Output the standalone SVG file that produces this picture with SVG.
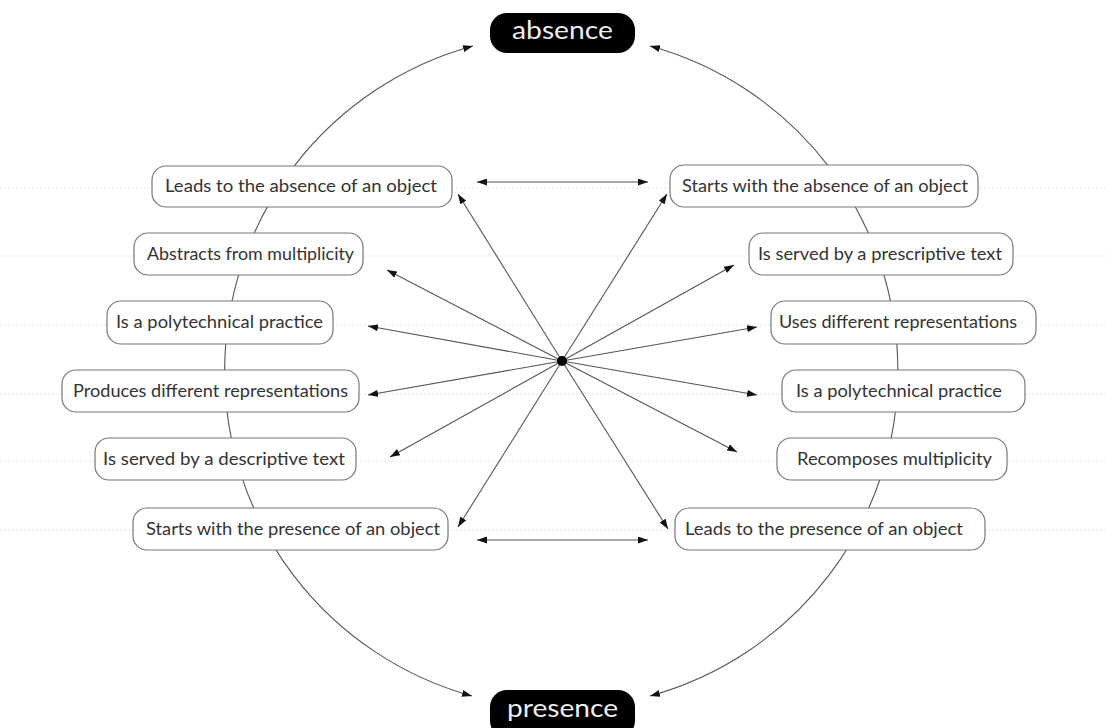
<svg xmlns="http://www.w3.org/2000/svg" width="1105" height="728" viewBox="0 0 1105 728">
<style>
.grid{stroke:#e4e4e4;stroke-width:1;stroke-dasharray:2 2;fill:none}
.box{fill:#fff;stroke:#777;stroke-width:1.2}
.lbl{font-family:Lato,"Open Sans","Liberation Sans",sans-serif;font-size:18px;fill:#333}
.title{fill:#000}
.ttext{font-family:Lato,"Open Sans","Liberation Sans",sans-serif;font-size:25px;fill:#eee}
.ln{stroke:#555;stroke-width:1.1;fill:none}
</style>
<defs>
<marker id="ah" viewBox="0 0 10 7" refX="10" refY="3.5" markerWidth="10" markerHeight="7" markerUnits="userSpaceOnUse" orient="auto-start-reverse">
<path d="M0,0 L10,3.5 L0,7 z" fill="#111"/>
</marker>
</defs>
<rect width="1105" height="728" fill="#fff"/>
<g id="grid">
<line class="grid" x1="0" y1="188" x2="1105" y2="188"/>
<line class="grid" x1="0" y1="256" x2="1105" y2="256"/>
<line class="grid" x1="0" y1="325" x2="1105" y2="325"/>
<line class="grid" x1="0" y1="394" x2="1105" y2="394"/>
<line class="grid" x1="0" y1="461" x2="1105" y2="461"/>
<line class="grid" x1="0" y1="530" x2="1105" y2="530"/>
</g>
<g id="connectors">
<path class="ln" d="M473,46 A337,337 0 0 0 472,696" marker-start="url(#ah)" marker-end="url(#ah)"/>
<path class="ln" d="M650,46 A337,337 0 0 1 650,696" marker-start="url(#ah)" marker-end="url(#ah)"/>
<line class="ln" x1="477" y1="182" x2="648" y2="182" marker-start="url(#ah)" marker-end="url(#ah)"/>
<line class="ln" x1="477" y1="540" x2="648" y2="540" marker-start="url(#ah)" marker-end="url(#ah)"/>
<line class="ln" x1="562" y1="361" x2="458" y2="194" marker-end="url(#ah)"/>
<line class="ln" x1="562" y1="361" x2="387" y2="270" marker-end="url(#ah)"/>
<line class="ln" x1="562" y1="361" x2="368" y2="326" marker-end="url(#ah)"/>
<line class="ln" x1="562" y1="361" x2="368" y2="395" marker-end="url(#ah)"/>
<line class="ln" x1="562" y1="361" x2="390" y2="457" marker-end="url(#ah)"/>
<line class="ln" x1="562" y1="361" x2="458" y2="527" marker-end="url(#ah)"/>
<line class="ln" x1="562" y1="361" x2="667" y2="194" marker-end="url(#ah)"/>
<line class="ln" x1="562" y1="361" x2="734" y2="265" marker-end="url(#ah)"/>
<line class="ln" x1="562" y1="361" x2="757" y2="327" marker-end="url(#ah)"/>
<line class="ln" x1="562" y1="361" x2="757" y2="395" marker-end="url(#ah)"/>
<line class="ln" x1="562" y1="361" x2="737" y2="452" marker-end="url(#ah)"/>
<line class="ln" x1="562" y1="361" x2="668" y2="529" marker-end="url(#ah)"/>
</g>
<g id="hub"><circle cx="562" cy="361" r="5" fill="#000"/></g>
<g id="absence">
<rect class="title" x="490" y="13" width="145" height="40" rx="17"/>
<text class="ttext" x="512" y="39" textLength="101" lengthAdjust="spacingAndGlyphs">absence</text>
</g>
<g id="presence">
<rect class="title" x="490" y="690" width="145" height="48" rx="17"/>
<text class="ttext" x="507" y="717" textLength="111" lengthAdjust="spacingAndGlyphs">presence</text>
</g>
<g id="l1"><rect class="box" x="152" y="166" width="300" height="41" rx="14"/><text class="lbl" x="165" y="192" textLength="272" lengthAdjust="spacingAndGlyphs">Leads to the absence of an object</text></g>
<g id="l2"><rect class="box" x="134" y="233" width="229" height="42" rx="14"/><text class="lbl" x="147" y="259.5" textLength="207" lengthAdjust="spacingAndGlyphs">Abstracts from multiplicity</text></g>
<g id="l3"><rect class="box" x="107" y="301" width="226" height="43" rx="14"/><text class="lbl" x="116" y="328" textLength="207" lengthAdjust="spacingAndGlyphs">Is a polytechnical practice</text></g>
<g id="l4"><rect class="box" x="62" y="370" width="297" height="42" rx="14"/><text class="lbl" x="73" y="396.5" textLength="275" lengthAdjust="spacingAndGlyphs">Produces different representations</text></g>
<g id="l5"><rect class="box" x="95" y="438" width="261" height="42" rx="14"/><text class="lbl" x="103" y="464.5" textLength="242" lengthAdjust="spacingAndGlyphs">Is served by a descriptive text</text></g>
<g id="l6"><rect class="box" x="133" y="508" width="315" height="42" rx="14"/><text class="lbl" x="146" y="534.5" textLength="294" lengthAdjust="spacingAndGlyphs">Starts with the presence of an object</text></g>
<g id="r1"><rect class="box" x="670" y="165" width="308" height="42" rx="14"/><text class="lbl" x="682" y="191.5" textLength="286" lengthAdjust="spacingAndGlyphs">Starts with the absence of an object</text></g>
<g id="r2"><rect class="box" x="749" y="233" width="264" height="42" rx="14"/><text class="lbl" x="758" y="259.5" textLength="244" lengthAdjust="spacingAndGlyphs">Is served by a prescriptive text</text></g>
<g id="r3"><rect class="box" x="771" y="301" width="265" height="43" rx="14"/><text class="lbl" x="779" y="328" textLength="238" lengthAdjust="spacingAndGlyphs">Uses different representations</text></g>
<g id="r4"><rect class="box" x="782" y="370" width="243" height="42" rx="14"/><text class="lbl" x="796" y="396.5" textLength="206" lengthAdjust="spacingAndGlyphs">Is a polytechnical practice</text></g>
<g id="r5"><rect class="box" x="777" y="438" width="230" height="42" rx="14"/><text class="lbl" x="797" y="464.5" textLength="195" lengthAdjust="spacingAndGlyphs">Recomposes multiplicity</text></g>
<g id="r6"><rect class="box" x="675" y="508" width="310" height="42" rx="14"/><text class="lbl" x="685" y="534.5" textLength="278" lengthAdjust="spacingAndGlyphs">Leads to the presence of an object</text></g>
</svg>
